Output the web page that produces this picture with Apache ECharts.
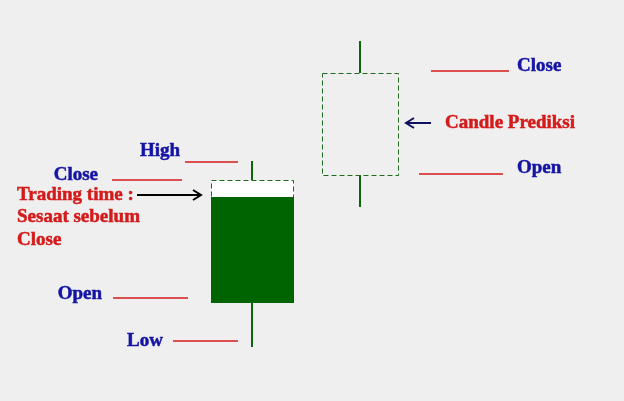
<!DOCTYPE html>
<html lang="id">
<head>
    <meta charset="UTF-8">
    <title>Candle Prediksi</title>
    <script src="https://cdn.jsdelivr.net/npm/echarts@6.0.0/dist/echarts.min.js"></script>
    <style>
        html, body { margin: 0; padding: 0; background: #efefef; }
        #chart { width: 624px; height: 401px; }
    </style>
</head>
<body>
    <div id="chart"></div>
    <script>
        // candles: time on x, price on y
        var candleTime = [63, 90];
        var candleOpen = [49, 112.5];
        var candleClose = [110, 163.5];
        var candleHigh = [119.5, 179.5];
        var candleLow = [26.5, 96.5];
        var candleNow = [101.5, 112.5];   // harga saat ini (isi hijau dari open sampai now)

        // garis level merah + teks
        var levelText = ['High', 'Close', 'Open', 'Low', 'Close', 'Open'];
        var levelPrice = [119, 110, 51, 29.5, 164.5, 113];
        var levelFrom = [46.25, 28, 28.25, 43.25, 107.75, 104.75];
        var levelTo = [59.5, 45.5, 47, 59.5, 127.25, 125.75];

        // catatan dengan panah
        var noteText = ['Trading time :\nSesaat sebelum\nClose', 'Candle Prediksi'];
        var notePrice = [102.5, 138.5];
        var noteTextAt = [4.25, 111.25];
        var noteFrom = [34.25, 107.75];
        var noteTo = [50.25, 101.5];

        // tampilan
        var candleWidth = [20.5, 19];
        var candleBoxFill = ['#ffffff', 'none'];
        var labelSide = ['left', 'left', 'left', 'left', 'right', 'right'];
        var labelGap = [5, 14, 11, 10, 8, 14];
        var labelDy = [-11, -5, -3.5, 0, -5, -6];
        var arrowColor = ['#000000', '#101060'];
        var green = '#0b650b';
        var blue = '#1414a4';
        var red = '#d41a1a';
        var font = 'bold 19px "Liberation Serif", "Times New Roman", serif';

        var candleData = candleTime.map(function (t, i) {
            return [t, candleOpen[i], candleClose[i], candleHigh[i], candleLow[i], candleNow[i]];
        });
        var levelData = levelPrice.map(function (p, i) {
            return [levelFrom[i], p, levelTo[i]];
        });
        var noteData = notePrice.map(function (p, i) {
            return [noteTextAt[i], p, noteFrom[i], noteTo[i]];
        });

        function crisp(v) { return Math.round(v) + 0.5; }

        function renderCandle(params, api) {
            var i = params.dataIndex;
            var x = api.value(0);
            var open = api.value(1), close = api.value(2);
            var high = api.value(3), low = api.value(4), now = api.value(5);
            var w = Math.round(api.size([candleWidth[i], 0])[0]);
            var top = api.coord([x, Math.max(open, close)]);
            var bot = api.coord([x, Math.min(open, close)]);
            var hi = api.coord([x, high]);
            var lo = api.coord([x, low]);
            var o = api.coord([x, open]);
            var n = api.coord([x, now]);
            var left = Math.round(top[0] - w / 2);
            var children = [
                { type: 'line', shape: { x1: top[0], y1: hi[1], x2: top[0], y2: top[1] }, style: { stroke: green, lineWidth: 2 } },
                { type: 'line', shape: { x1: top[0], y1: bot[1], x2: top[0], y2: lo[1] }, style: { stroke: green, lineWidth: 2 } },
                { type: 'rect', shape: { x: left + 0.5, y: crisp(top[1]), width: w, height: Math.round(bot[1] - top[1]) },
                  style: { fill: candleBoxFill[i], stroke: '#1d6a1d', lineWidth: 1, lineDash: [5, 3] } }
            ];
            if (Math.abs(o[1] - n[1]) > 1) {
                children.push({ type: 'rect',
                    shape: { x: left, y: Math.min(o[1], n[1]), width: w + 1, height: Math.abs(o[1] - n[1]) + 1 },
                    style: { fill: '#006400' } });
            }
            return { type: 'group', children: children };
        }

        function renderLevel(params, api) {
            var i = params.dataIndex;
            var a = api.coord([api.value(0), api.value(1)]);
            var b = api.coord([api.value(2), api.value(1)]);
            var left = labelSide[i] === 'left';
            return { type: 'group', children: [
                { type: 'line', shape: { x1: a[0], y1: a[1], x2: b[0], y2: b[1] }, style: { stroke: red, lineWidth: 1.5 } },
                { type: 'text', x: left ? a[0] - labelGap[i] : b[0] + labelGap[i], y: a[1] + labelDy[i],
                  style: { text: levelText[i], fill: blue, stroke: blue, lineWidth: 0.5, font: font,
                           align: left ? 'right' : 'left', verticalAlign: 'middle' } }
            ] };
        }

        function renderNote(params, api) {
            var i = params.dataIndex;
            var t = api.coord([api.value(0), api.value(1)]);
            var a = api.coord([api.value(2), api.value(1)]);
            var b = api.coord([api.value(3), api.value(1)]);
            var dir = b[0] > a[0] ? 1 : -1;
            var c = arrowColor[i];
            return { type: 'group', children: [
                { type: 'line', shape: { x1: a[0], y1: a[1], x2: b[0], y2: b[1] }, style: { stroke: c, lineWidth: 2 } },
                { type: 'polyline', shape: { points: [[b[0] - dir * 8, b[1] - 5], [b[0], b[1]], [b[0] - dir * 8, b[1] + 5]] },
                  style: { stroke: c, fill: 'none', lineWidth: 2 } },
                { type: 'text', x: t[0], y: t[1] - 11.25,
                  style: { text: noteText[i], fill: red, stroke: red, lineWidth: 0.5, font: font,
                           align: 'left', verticalAlign: 'top', lineHeight: 22.5 } }
            ] };
        }

        var myChart = echarts.init(document.getElementById('chart'));
        var option = {
            backgroundColor: '#efefef',
            animation: false,
            grid: { left: 0, right: 0, top: 0, bottom: 1 },
            xAxis: { type: 'value', min: 0, max: 156, show: false },
            yAxis: { type: 'value', min: 0, max: 200, show: false },
            series: [
                { type: 'custom', name: 'level', renderItem: renderLevel, data: levelData, clip: false },
                { type: 'custom', name: 'candle', renderItem: renderCandle, data: candleData, clip: false },
                { type: 'custom', name: 'note', renderItem: renderNote, data: noteData, clip: false }
            ]
        };
        myChart.setOption(option);
    </script>
</body>
</html>
